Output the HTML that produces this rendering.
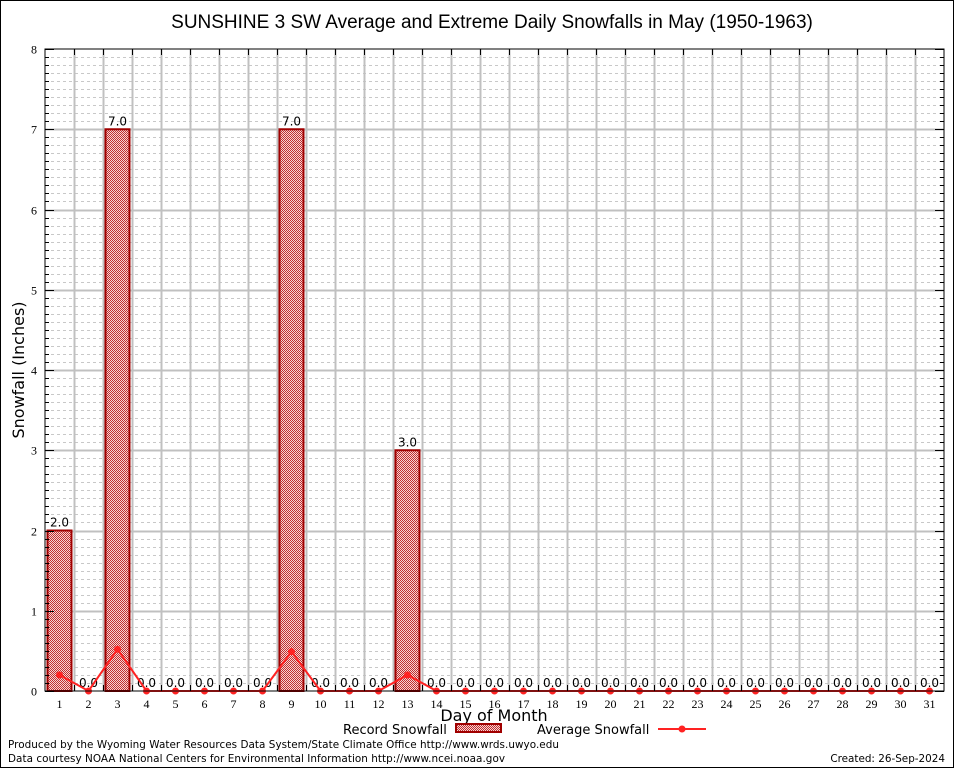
<!DOCTYPE html>
<html><head><meta charset="utf-8"><style>
body{margin:0;background:#fff;}
svg{display:block;font-family:"DejaVu Sans","Liberation Sans",sans-serif;}
</style></head><body>
<svg id="chart" width="954" height="768">
<defs>
<pattern id="hatch" width="2" height="2" patternUnits="userSpaceOnUse">
<rect width="2" height="2" fill="#f6d4d4"/>
<rect x="0" y="0" width="1" height="1" fill="#c03030"/>
<rect x="1" y="1" width="1" height="1" fill="#c03030"/>
</pattern>
</defs>
<rect x="0.5" y="0.5" width="953" height="767" fill="#fff" stroke="#000"/>
<text x="492" y="28" font-size="19" text-anchor="middle" font-family="Liberation Sans, sans-serif">SUNSHINE 3 SW Average and Extreme Daily Snowfalls in May (1950-1963)</text>
<g id="grid"></g>
<g id="bars"></g>
<g id="avg"></g>
<rect x="45" y="49" width="899" height="642" fill="none" stroke="#000"/>
<g id="axes"></g>
<text x="24" y="370" font-size="16" text-anchor="middle" transform="rotate(-90 24 370)">Snowfall (Inches)</text>
<text x="494" y="721" font-size="16" text-anchor="middle">Day of Month</text>
<g>
<text x="343" y="734" font-size="13">Record Snowfall</text>
<rect x="456" y="724" width="45" height="8" fill="url(#hatch)" stroke="#a00000" stroke-width="2"/>
</g>
<g>
<text x="537" y="734" font-size="13">Average Snowfall</text>
<line x1="658" y1="729" x2="706" y2="729" stroke="#f22" stroke-width="2"/>
<circle cx="682" cy="729" r="3.5" fill="#f22"/>
</g>
<text x="8" y="748" font-size="10.4" textLength="551">Produced by the Wyoming Water Resources Data System/State Climate Office http://www.wrds.uwyo.edu</text>
<text x="8" y="762" font-size="10.4" textLength="497">Data courtesy NOAA National Centers for Environmental Information http://www.ncei.noaa.gov</text>
<text x="945" y="762" font-size="10.4" text-anchor="end">Created:  26-Sep-2024</text>
</svg>
<script>
const days = [1,2,3,4,5,6,7,8,9,10,11,12,13,14,15,16,17,18,19,20,21,22,23,24,25,26,27,28,29,30,31];
const recordSnow = [2,0,7,0,0,0,0,0,7,0,0,0,3,0,0,0,0,0,0,0,0,0,0,0,0,0,0,0,0,0,0];
const avgSnow = [0.2,0,0.52,0,0,0,0,0,0.49,0,0,0,0.2,0,0,0,0,0,0,0,0,0,0,0,0,0,0,0,0,0,0];
const yTicks = [0,1,2,3,4,5,6,7,8];

const NS="http://www.w3.org/2000/svg";
const L=45,R=944,T=49,B=691,slot=(R-L)/days.length;
const x=d=>L+slot*(d-0.5);
const y=v=>B-(B-T)*v/8;
function mk(tag,attrs,parent){const e=document.createElementNS(NS,tag);for(const k in attrs)e.setAttribute(k,attrs[k]);parent.appendChild(e);return e;}
const grid=document.getElementById('grid'),axes=document.getElementById('axes'),bars=document.getElementById('bars'),avg=document.getElementById('avg');
for(let i=1;i<80;i++){if(i%10===0)continue;const yy=Math.round(y(i/10))+0.5;
const g=mk('line',{x1:L,x2:R,y1:yy,y2:yy,stroke:'#c8c8c8','stroke-dasharray':'3,3','stroke-width':1},grid);

mk('line',{x1:L,x2:L+4,y1:yy,y2:yy,stroke:'#000'},axes);mk('line',{x1:R-4,x2:R,y1:yy,y2:yy,stroke:'#000'},axes);}
for(let k=1;k<days.length;k++){const xx=Math.round(L+slot*k)+0.5;
const g=mk('line',{x1:xx,x2:xx,y1:T,y2:B,stroke:'#c0c0c0','stroke-width':2},grid);

mk('line',{x1:xx,x2:xx,y1:T,y2:T+6,stroke:'#000'},axes);mk('line',{x1:xx,x2:xx,y1:B-6,y2:B,stroke:'#000'},axes);}
yTicks.forEach(v=>{const yy=Math.round(y(v))+0.5;
if(v>0&&v<8){const g=mk('line',{x1:L,x2:R,y1:yy,y2:yy,stroke:'#c0c0c0','stroke-width':2},grid);
}
mk('line',{x1:L,x2:L+9,y1:yy,y2:yy,stroke:'#000'},axes);mk('line',{x1:R-9,x2:R,y1:yy,y2:yy,stroke:'#000'},axes);
const t=mk('text',{x:37,y:yy+4,'font-size':12,'text-anchor':'end','font-family':'Liberation Serif, serif'},axes);t.textContent=v;
});
days.forEach((d,i)=>{const cx=x(d);
const t=mk('text',{x:cx,y:708,'font-size':12,'text-anchor':'middle','font-family':'Liberation Serif, serif'},axes);t.textContent=d;

const v=recordSnow[i];
if(v>0){const r=mk('rect',{x:cx-12,y:y(v),width:24,height:B-y(v),fill:'url(#hatch)',stroke:'#a00000','stroke-width':2},bars);
}
const lb=mk('text',{x:cx,y:y(v)-4,'font-size':12,'text-anchor':'middle'},bars);lb.textContent=v.toFixed(1);
});
const pl=mk('polyline',{points:days.map((d,i)=>x(d)+','+y(avgSnow[i])).join(' '),fill:'none',stroke:'#f22','stroke-width':2},avg);

days.forEach((d,i)=>{const c=mk('circle',{cx:x(d),cy:y(avgSnow[i]),r:3.5,fill:'#f22'},avg);
});
</script>
</body></html>
